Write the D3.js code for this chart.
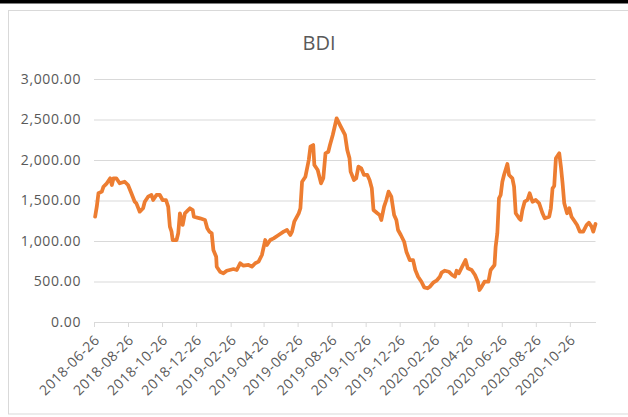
<!DOCTYPE html>
<html>
<head>
<meta charset="utf-8">
<script src="https://cdn.jsdelivr.net/npm/d3@7"></script>
<style>
  body { margin: 0; background: #fff; }
  text { font-family: "Open Sans", sans-serif; fill: #595959; }
</style>
</head>
<body>
<script>
// chart size matches the window
var svgWidth = 628;
var svgHeight = 417;

var title = "BDI";

// BDI readings
var dates = [
  "2018-06-28","2018-07-01","2018-07-04","2018-07-10","2018-07-13","2018-07-19","2018-07-25","2018-07-28","2018-07-31",
  "2018-08-05","2018-08-11","2018-08-20","2018-08-26","2018-09-01","2018-09-07","2018-09-10","2018-09-16","2018-09-22",
  "2018-09-25","2018-10-01","2018-10-07","2018-10-10","2018-10-16","2018-10-22","2018-10-27","2018-11-02","2018-11-06",
  "2018-11-09","2018-11-12","2018-11-14","2018-11-21","2018-11-24","2018-11-27","2018-12-02","2018-12-06","2018-12-09",
  "2018-12-15","2018-12-20","2018-12-22","2019-01-02","2019-01-11","2019-01-15","2019-01-19","2019-01-23","2019-01-26",
  "2019-01-31","2019-02-01","2019-02-07","2019-02-13","2019-02-19","2019-03-03","2019-03-09","2019-03-15","2019-03-21",
  "2019-03-30","2019-04-05","2019-04-11","2019-04-17","2019-04-23","2019-04-29","2019-05-02","2019-05-08","2019-05-14",
  "2019-05-23","2019-06-01","2019-06-07","2019-06-13","2019-06-16","2019-06-20","2019-06-28","2019-07-01","2019-07-04",
  "2019-07-10","2019-07-16","2019-07-19","2019-07-24","2019-07-26","2019-08-01","2019-08-07","2019-08-11","2019-08-15",
  "2019-08-20","2019-08-23","2019-08-28","2019-09-04","2019-09-10","2019-09-19","2019-09-23","2019-09-27","2019-09-29",
  "2019-10-05","2019-10-09","2019-10-13","2019-10-18","2019-10-23","2019-10-29","2019-11-02","2019-11-06","2019-11-09",
  "2019-11-16","2019-11-20","2019-11-23","2019-11-28","2019-12-02","2019-12-06","2019-12-11","2019-12-16","2019-12-20",
  "2019-12-23","2019-12-28","2020-01-03","2020-01-07","2020-01-13","2020-01-19","2020-01-23","2020-01-28","2020-02-03",
  "2020-02-08","2020-02-14","2020-02-18","2020-02-24","2020-03-01","2020-03-07","2020-03-10","2020-03-16","2020-03-23",
  "2020-03-29","2020-04-03","2020-04-06","2020-04-10","2020-04-16","2020-04-22","2020-04-26","2020-05-03","2020-05-09",
  "2020-05-14","2020-05-17","2020-05-21","2020-05-26","2020-06-02","2020-06-06","2020-06-13","2020-06-15","2020-06-18",
  "2020-06-21","2020-06-24","2020-06-27","2020-06-30","2020-07-06","2020-07-09","2020-07-15","2020-07-18","2020-07-21",
  "2020-07-27","2020-07-30","2020-08-02","2020-08-06","2020-08-11","2020-08-15","2020-08-20","2020-08-26","2020-09-01",
  "2020-09-07","2020-09-11","2020-09-19","2020-09-22","2020-09-25","2020-09-28","2020-10-01","2020-10-07","2020-10-10",
  "2020-10-13","2020-10-16","2020-10-21","2020-10-25","2020-10-29","2020-11-02","2020-11-08","2020-11-13","2020-11-19",
  "2020-11-25","2020-11-29","2020-12-04","2020-12-07","2020-12-11"
];
var bdi = [
  1300,1424,1590,1610,1670,1712,1774,1691,1774,
  1774,1712,1732,1691,1589,1485,1465,1362,1404,
  1485,1547,1568,1506,1568,1568,1506,1506,1424,
  1177,1115,1012,1012,1095,1342,1198,1342,1362,
  1404,1383,1300,1280,1259,1157,1115,1095,889,
  806,683,621,601,633,654,642,725,695,
  704,683,725,745,827,1012,951,1012,1033,
  1074,1115,1136,1074,1115,1238,1342,1404,1732,
  1794,2000,2164,2185,1938,1877,1712,1774,2083,
  2102,2185,2309,2515,2430,2309,2123,2021,1856,
  1753,1774,1918,1897,1815,1815,1753,1650,1383,
  1342,1321,1259,1424,1506,1609,1547,1321,1259,
  1136,1074,991,868,765,765,642,559,497,
  428,416,436,485,510,559,609,633,621,
  580,559,633,601,683,765,663,642,580,
  497,395,436,497,497,642,704,930,1095,
  1527,1568,1732,1815,1951,1815,1774,1670,1342,
  1280,1259,1383,1485,1506,1589,1485,1506,1465,
  1342,1280,1300,1404,1650,1679,2021,2083,1918,
  1712,1465,1342,1404,1300,1259,1198,1115,1115,
  1198,1226,1177,1115,1210
];

var yTicks = [0, 500, 1000, 1500, 2000, 2500, 3000];
var xTicks = [
  "2018-06-26","2018-08-26","2018-10-26","2018-12-26","2019-02-26","2019-04-26","2019-06-26","2019-08-26",
  "2019-10-26","2019-12-26","2020-02-26","2020-04-26","2020-06-26","2020-08-26","2020-10-26"
];
var xStart = "2018-06-26";
var xEnd = "2020-12-11";

var parseTime = d3.timeParse("%Y-%m-%d");

var bdiData = dates.map(function(d, i) {
  return { date: parseTime(d), value: bdi[i] };
});

var plot = { left: 94, right: 595.5, top: 79, bottom: 322 };

var svg = d3.select("body")
  .append("svg")
  .attr("width", svgWidth)
  .attr("height", svgHeight);

// black bar at the very top and the light chart frame
svg.append("rect")
  .attr("x", 0).attr("y", 0)
  .attr("width", svgWidth).attr("height", 3.5)
  .attr("fill", "#000");

svg.append("rect")
  .attr("x", 8.5).attr("y", 10.5)
  .attr("width", 622).attr("height", 403.5)
  .attr("fill", "none")
  .attr("stroke", "#d9d9d9");

svg.append("text")
  .attr("x", 319)
  .attr("y", 50)
  .attr("text-anchor", "middle")
  .style("font-size", "20px")
  .text(title);

var xTimeScale = d3.scaleTime()
  .domain([parseTime(xStart), parseTime(xEnd)])
  .range([plot.left, plot.right]);

var yLinearScale = d3.scaleLinear()
  .domain([0, 3000])
  .range([plot.bottom, plot.top]);

// gridlines + y labels
var leftAxis = d3.axisLeft(yLinearScale)
  .tickValues(yTicks)
  .tickSize(-(plot.right - plot.left))
  .tickPadding(13)
  .tickFormat(d3.format(",.2f"));

var yAxisG = svg.append("g")
  .attr("transform", `translate(${plot.left}, 0)`)
  .call(leftAxis);
yAxisG.select(".domain").remove();
yAxisG.selectAll("line").attr("stroke", "#d9d9d9");
yAxisG.selectAll("text")
  .style("font-size", "14px")
  .style("letter-spacing", "0.6px")
  .style("font-family", "'Open Sans', sans-serif")
  .attr("fill", "#595959");

// bottom axis with rotated date labels
var bottomAxis = d3.axisBottom(xTimeScale)
  .tickValues(xTicks.map(parseTime))
  .tickSize(5)
  .tickSizeOuter(0)
  .tickFormat(d3.timeFormat("%Y-%m-%d"));

var xAxisG = svg.append("g")
  .attr("transform", `translate(0, ${plot.bottom})`)
  .call(bottomAxis);
xAxisG.select(".domain").attr("stroke", "#d9d9d9");
xAxisG.selectAll("line").attr("stroke", "#d9d9d9");
xAxisG.selectAll("text")
  .style("font-size", "14px")
  .style("letter-spacing", "0.5px")
  .style("font-family", "'Open Sans', sans-serif")
  .attr("fill", "#595959")
  .attr("text-anchor", "end")
  .attr("y", 0)
  .attr("dy", 0)
  .attr("transform", "translate(6, 19) rotate(-45)");

var line = d3.line()
  .x(d => xTimeScale(d.date))
  .y(d => yLinearScale(d.value));

svg.append("path")
  .datum(bdiData)
  .attr("d", line)
  .attr("fill", "none")
  .attr("stroke", "#ed7d31")
  .attr("stroke-width", 3.75)
  .attr("stroke-linejoin", "round")
  .attr("stroke-linecap", "round");
</script>
</body>
</html>
